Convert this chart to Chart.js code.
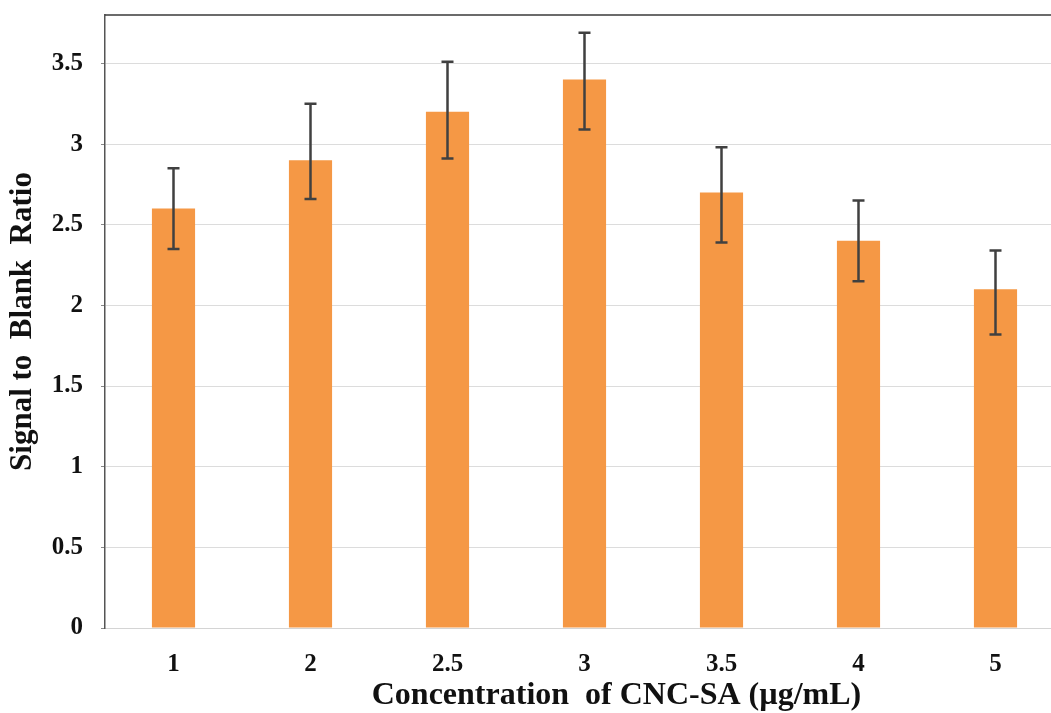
<!DOCTYPE html>
<html>
<head>
<meta charset="utf-8">
<script src="https://cdn.jsdelivr.net/npm/chart.js@4"></script>
<style>
  html, body { margin: 0; padding: 0; background: #fff; overflow: hidden; }
  #wrap { width: 1064px; height: 713px; }
</style>
</head>
<body>
<div id="wrap"><canvas id="grafico"></canvas></div>
<script>
// concentraciones (eje x) y valores
var categorias = ['1', '2', '2.5', '3', '3.5', '4', '5'];
var ratio = [2.6, 2.9, 3.2, 3.4, 2.7, 2.4, 2.1];
var errorAlto = [2.85, 3.25, 3.51, 3.69, 2.98, 2.65, 2.34];
var errorBajo = [2.35, 2.66, 2.91, 3.09, 2.39, 2.15, 1.82];

var fuente = '"Liberation Serif", "Times New Roman", serif';

// barras de error y borde superior
var barrasError = {
  id: 'barrasError',
  afterDatasetsDraw: function(chart) {
    var ctx = chart.ctx;
    var y = chart.scales.y;
    var meta = chart.getDatasetMeta(0);
    ctx.save();
    ctx.strokeStyle = '#404040';
    ctx.lineWidth = 2.5;
    meta.data.forEach(function(bar, i) {
      var yA = y.getPixelForValue(errorAlto[i]);
      var yB = y.getPixelForValue(errorBajo[i]);
      ctx.beginPath();
      ctx.moveTo(bar.x, yA);
      ctx.lineTo(bar.x, yB);
      ctx.moveTo(bar.x - 6, yA);
      ctx.lineTo(bar.x + 6, yA);
      ctx.moveTo(bar.x - 6, yB);
      ctx.lineTo(bar.x + 6, yB);
      ctx.stroke();
    });
    var area = chart.chartArea;
    ctx.strokeStyle = '#3a3a3a';
    ctx.lineWidth = 1.5;
    ctx.beginPath();
    ctx.moveTo(area.left, area.top);
    ctx.lineTo(area.right, area.top);
    ctx.stroke();
    ctx.restore();
  }
};

var ctx = document.getElementById('grafico').getContext('2d');
var grafico = new Chart(ctx, {
  type: 'bar',
  data: {
    labels: categorias,
    datasets: [{
      label: 'Signal to Blank Ratio',
      data: ratio,
      backgroundColor: '#F59845',
      barPercentage: 0.315,
      categoryPercentage: 1
    }]
  },
  options: {
    responsive: true,
    maintainAspectRatio: false,
    animation: false,
    layout: { padding: { top: 15, right: 0, left: 0, bottom: 0 } },
    plugins: {
      legend: { display: false },
      tooltip: { enabled: false }
    },
    scales: {
      x: {
        afterFit: function(scale) {
          scale.height = 85;
          scale.paddingLeft = 0;
          scale.paddingRight = 0;
        },
        grid: { display: false, drawTicks: false },
        border: { color: '#d4d4d4', width: 1 },
        ticks: {
          color: '#111',
          padding: 22,
          font: { family: fuente, size: 25, weight: 'bold' }
        },
        title: {
          display: true,
          text: '\u2003\u2003Concentration  of CNC-SA (\u00b5g/mL)',
          color: '#111',
          padding: { top: 0, bottom: 0 },
          font: { family: fuente, size: 32, weight: 'bold', lineHeight: 1.1 }
        }
      },
      y: {
        min: 0,
        max: 3.8,
        afterFit: function(scale) {
          scale.width = 105;
          scale.paddingTop = 0;
          scale.paddingBottom = 0;
        },
        afterBuildTicks: function(scale) {
          scale.ticks = scale.ticks.filter(function(t) { return t.value <= 3.5; });
        },
        grid: { color: '#dcdcdc', lineWidth: 1, tickLength: 4, tickColor: '#888' },
        border: { color: '#555', width: 1.5 },
        ticks: {
          stepSize: 0.5,
          color: '#111',
          padding: 18,
          font: { family: fuente, size: 25, weight: 'bold' },
          callback: function(v) { return v; }
        },
        title: {
          display: true,
          text: 'Signal to  Blank  Ratio',
          color: '#111',
          padding: { top: 6, bottom: 0 },
          font: { family: fuente, size: 31, weight: 'bold', lineHeight: 1.1 }
        }
      }
    }
  },
  plugins: [barrasError]
});
</script>
</body>
</html>
